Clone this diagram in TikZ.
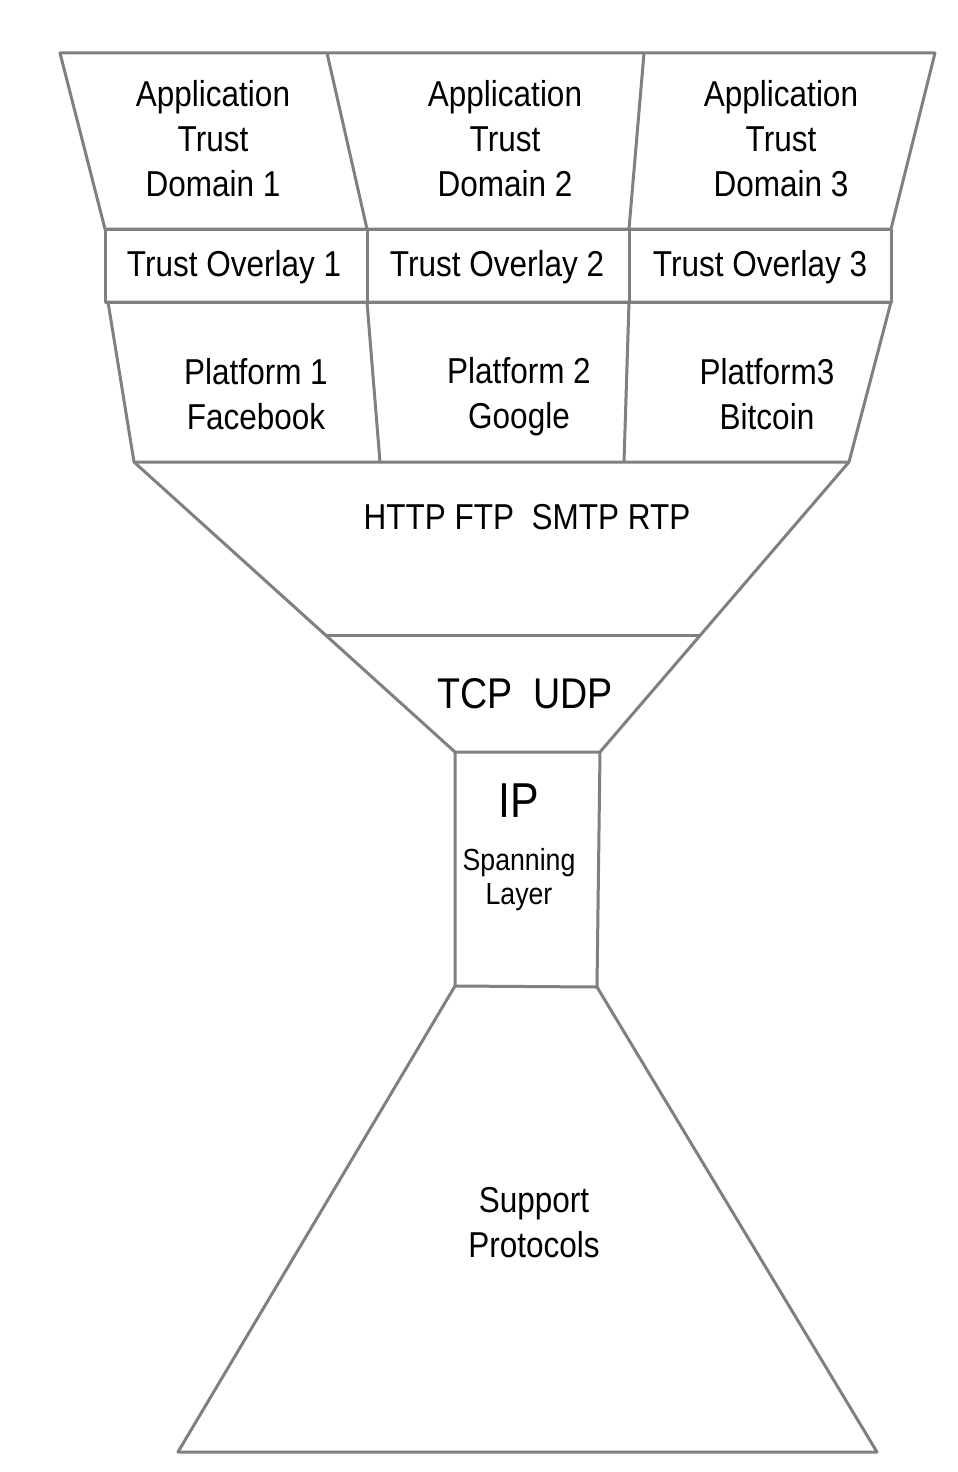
\documentclass[tikz,border=0pt]{standalone}
\usepackage{fontspec}
\setmainfont[FakeStretch=0.875]{Liberation Sans}
\definecolor{edgegray}{RGB}{128,128,128}
\begin{document}
\begin{tikzpicture}[x=1pt,y=-1pt]
\tikzset{
  edge/.style={draw=edgegray, line width=3pt, line join=round},
  lbl/.style={font=\fontsize{36}{45}\selectfont, align=center, inner sep=0pt, text=black},
  small/.style={font=\fontsize{30.5}{34}\selectfont, align=center, inner sep=0pt, text=black},
}
\useasboundingbox (0,0) rectangle (958,1472);
% coordinates
\coordinate (A1) at (60,53);   \coordinate (A2) at (327,53);  \coordinate (A3) at (644,53);  \coordinate (A4) at (935,53);
\coordinate (B1) at (105,229); \coordinate (B2) at (367,229); \coordinate (B3) at (629,229); \coordinate (B4) at (891,229);
\coordinate (C1) at (105,302); \coordinate (C2) at (367,302); \coordinate (C3) at (629,302); \coordinate (C4) at (891,302);
\coordinate (P1) at (108,302);
\coordinate (D1) at (134,462); \coordinate (D2) at (380,462); \coordinate (D3) at (624,462); \coordinate (D4) at (849,462);
\coordinate (E1) at (326,635); \coordinate (E2) at (699,635);
\coordinate (F1) at (455,752); \coordinate (F2) at (600,752);
\coordinate (G1) at (455,986); \coordinate (G2) at (597,987);
\coordinate (H1) at (178,1452); \coordinate (H2) at (877,1452);
% top domains
\draw[edge] (A1) -- (A4) -- (B4) -- (B1) -- cycle;
\draw[edge] (A2) -- (B2);
\draw[edge] (A3) -- (B3);
% overlays
\draw[edge] (B1) -- (B4) -- (C4) -- (C1) -- cycle;
\draw[edge] (B2) -- (C2);
\draw[edge] (B3) -- (C3);
% platforms
\draw[edge] (P1) -- (C4) -- (D4) -- (D1) -- cycle;
\draw[edge] (C2) -- (D2);
\draw[edge] (C3) -- (D3);
% funnel
\draw[edge] (D1) -- (F1);
\draw[edge] (D4) -- (F2);
\draw[edge] (E1) -- (E2);
% IP box
\draw[edge] (F1) -- (F2) -- (G2) -- (G1) -- cycle;
% support
\draw[edge] (G1) -- (H1) -- (H2) -- (G2);
% labels
\node[lbl] (dom1) at (213,139) {Application\\Trust\\Domain 1};
\node[lbl] (dom2) at (505,139) {Application\\Trust\\Domain 2};
\node[lbl] (dom3) at (781,139) {Application\\Trust\\Domain 3};
\node[lbl] (ov1) at (234,267) {Trust Overlay 1};
\node[lbl] (ov2) at (497,267) {Trust Overlay 2};
\node[lbl] (ov3) at (760,267) {Trust Overlay 3};
\node[lbl] (pl1) at (256,394) {Platform 1\\Facebook};
\node[lbl] (pl2) at (519,397) {Platform 2\\Google};
\node[lbl] (pl3) at (767,394) {Platform3\\Bitcoin};
\node[lbl] (app) at (527,517) {HTTP FTP\ \ SMTP RTP};
\node[lbl, font=\fontsize{43}{45}\selectfont] (tcp) at (525,694) {TCP\ \ UDP};
\node[lbl, font=\fontsize{49}{50}\selectfont] (ip) at (519,801) {IP};
\node[small] (span) at (519,880) {Spanning\\Layer};
\node[lbl] (sup) at (534,1223) {Support\\Protocols};
\end{tikzpicture}
\end{document}
